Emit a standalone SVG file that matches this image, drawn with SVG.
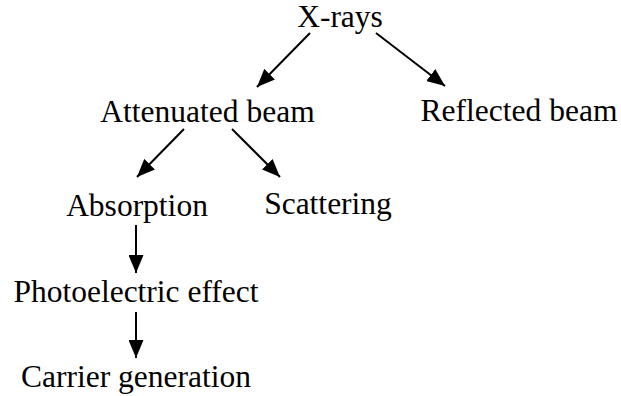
<svg xmlns="http://www.w3.org/2000/svg" width="621" height="396" viewBox="0 0 621 396">
<defs>
<style>
.t text{font-family:'Liberation Serif','DejaVu Serif',serif;font-size:31.5px;fill:#000;text-anchor:middle}
.c line{stroke:#000;stroke-width:2}
</style>
<marker id="ah" viewBox="0 0 18 15" refX="18" refY="7.5" markerWidth="18" markerHeight="15" markerUnits="userSpaceOnUse" orient="auto">
<path d="M0,0 L18,7.5 L0,15 z" fill="#000"/>
</marker>
</defs>
<rect width="621" height="396" fill="#fff"/>
<g class="c">
<line x1="310" y1="33" x2="257" y2="87" marker-end="url(#ah)"/>
<line x1="376" y1="33" x2="445" y2="86" marker-end="url(#ah)"/>
<line x1="184" y1="129" x2="137" y2="177" marker-end="url(#ah)"/>
<line x1="232" y1="129" x2="280" y2="177" marker-end="url(#ah)"/>
<line x1="136" y1="225" x2="136" y2="273" marker-end="url(#ah)"/>
<line x1="136" y1="312" x2="136" y2="358" marker-end="url(#ah)"/>
</g>
<g class="t">
<g id="xrays"><text x="340" y="27">X-rays</text></g>
<g id="attenuated"><text x="207.5" y="122">Attenuated beam</text></g>
<g id="reflected"><text x="519" y="121">Reflected beam</text></g>
<g id="absorption"><text x="137" y="216">Absorption</text></g>
<g id="scattering"><text x="328" y="214">Scattering</text></g>
<g id="photo"><text x="136" y="302">Photoelectric effect</text></g>
<g id="carrier"><text x="136" y="387">Carrier generation</text></g>
</g>
</svg>
